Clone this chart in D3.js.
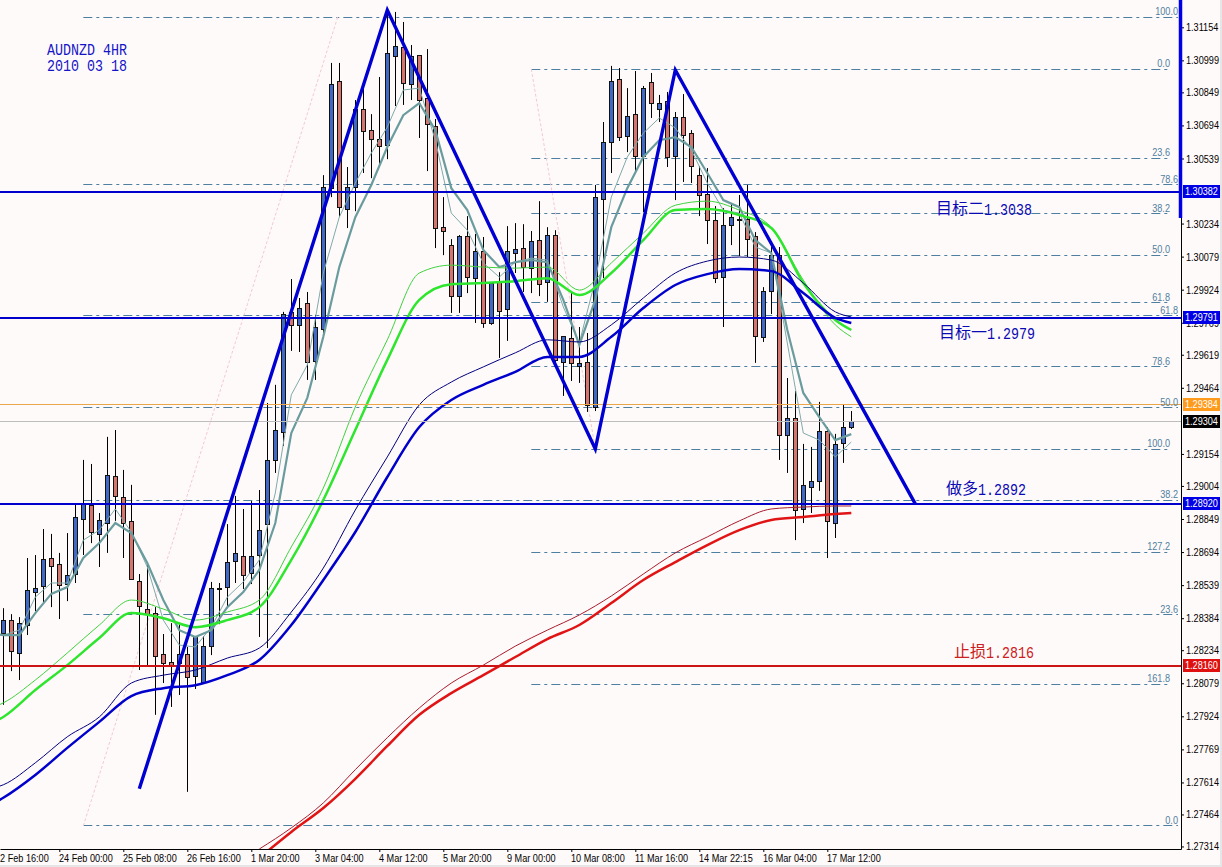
<!DOCTYPE html>
<html>
<head>
<meta charset="utf-8">
<title>AUDNZD 4HR</title>
<script src="https://cdn.jsdelivr.net/npm/d3@7"></script>
<style>
  html, body { margin: 0; padding: 0; overflow: hidden; background: #e6e6e6; }
  svg { display: block; }
  .small { font-family: "Liberation Sans", Arial, sans-serif; font-size: 11px; }
</style>
</head>
<body>
<div id="chart"></div>
<script>
// ------ DATA: CANDLES (one entry per 4 hour bar) ------

const opens = [
  1.28310,1.28371,1.28221,1.28352,1.28507,1.28535,1.28666,1.28638,1.28544,1.28586,
  1.28844,1.28910,1.28779,1.28830,1.29046,1.28952,1.28835,1.28554,1.28427,1.28408,
  1.28216,1.28178,1.28174,1.28216,1.28113,1.28085,1.28249,1.28525,1.28525,1.28647,
  1.28675,1.28596,1.28680,1.28821,1.29121,1.29252,1.29815,1.29754,1.29857,1.29585,
  1.29740,1.30400,1.30898,1.30302,1.30405,1.30771,1.30668,1.30630,1.30597,1.31015,
  1.31057,1.30884,1.31024,1.30818,1.30691,1.30217,1.30133,1.29889,1.30171,1.29978,
  1.30105,1.29768,1.29960,1.29834,1.30096,1.30119,1.30025,1.30156,1.29960,1.30180,
  1.29581,1.29693,1.29562,1.29581,1.29374,1.30349,1.30611,1.30907,1.30644,1.30747,
  1.30546,1.30893,1.30771,1.30808,1.30546,1.30729,1.30658,1.30461,1.30368,1.30246,
  1.29983,1.30227,1.30255,1.30255,1.30171,1.29703,1.29917,1.30086,1.29238,1.29318,
  1.28891,1.28999,1.29023,1.29257,1.28825,1.29205,1.29276];
const highs = [
  1.28431,1.28403,1.28389,1.28666,1.28680,1.28802,1.28779,1.28690,1.28783,1.28915,
  1.29126,1.29107,1.28877,1.29234,1.29266,1.29079,1.29009,1.28591,1.28638,1.28436,
  1.28310,1.28361,1.28356,1.28249,1.28300,1.28300,1.28554,1.28549,1.28825,1.28957,
  1.28896,1.28933,1.28985,1.29393,1.29478,1.29820,1.29974,1.29885,1.29913,1.29806,
  1.30461,1.30987,1.30987,1.30499,1.30813,1.30869,1.30747,1.30921,1.31235,1.31226,
  1.31179,1.31071,1.31024,1.31052,1.30724,1.30358,1.30161,1.30180,1.30269,1.30185,
  1.30171,1.29955,1.30006,1.30222,1.30236,1.30231,1.30199,1.30339,1.30217,1.30203,
  1.29703,1.29917,1.29749,1.29721,1.30415,1.30710,1.30973,1.30963,1.30869,1.30949,
  1.30879,1.30940,1.30837,1.30851,1.30757,1.30841,1.30672,1.30504,1.30494,1.30316,
  1.30306,1.30325,1.30368,1.30415,1.30194,1.29936,1.30124,1.30124,1.29510,1.29449,
  1.29201,1.29187,1.29398,1.29280,1.29248,1.29384,1.29355];
const lows = [
  1.27978,1.28136,1.28094,1.28305,1.28417,1.28460,1.28436,1.28380,1.28464,1.28549,
  1.28680,1.28736,1.28624,1.28690,1.28840,1.28666,1.28563,1.28141,1.28164,1.27931,
  1.28080,1.27968,1.28024,1.27570,1.28052,1.28080,1.28211,1.28356,1.28431,1.28549,
  1.28521,1.28544,1.28296,1.28244,1.29065,1.29191,1.29637,1.29632,1.29501,1.29501,
  1.29703,1.30358,1.30264,1.30213,1.30292,1.30471,1.30447,1.30499,1.30536,1.30785,
  1.30790,1.30813,1.30635,1.30480,1.30119,1.30086,1.29815,1.29815,1.29908,1.29768,
  1.29745,1.29759,1.29604,1.29684,1.30002,1.29913,1.29908,1.29894,1.29867,1.29571,
  1.29426,1.29496,1.29487,1.29351,1.29355,1.29978,1.30471,1.30621,1.30569,1.30480,
  1.30288,1.30729,1.30710,1.30499,1.30344,1.30429,1.30424,1.30269,1.30138,1.29955,
  1.29749,1.30133,1.30081,1.30077,1.29581,1.29679,1.29810,1.29126,1.29065,1.28750,
  1.28830,1.28877,1.28981,1.28666,1.28760,1.29112,1.29271];
const closes = [
  1.28371,1.28225,1.28361,1.28516,1.28525,1.28661,1.28629,1.28540,1.28586,1.28854,
  1.28915,1.28783,1.28844,1.29055,1.28952,1.28830,1.28563,1.28436,1.28403,1.28206,
  1.28174,1.28164,1.28216,1.28108,1.28300,1.28253,1.28521,1.28525,1.28643,1.28685,
  1.28586,1.28675,1.28797,1.29121,1.29262,1.29806,1.29754,1.29834,1.29581,1.29745,
  1.30405,1.30888,1.30306,1.30405,1.30771,1.30668,1.30625,1.30597,1.31029,1.31062,
  1.30888,1.31015,1.30813,1.30696,1.30213,1.30199,1.29894,1.30171,1.29978,1.30105,
  1.29768,1.29955,1.29824,1.30105,1.30114,1.30030,1.30152,1.29950,1.30180,1.29595,
  1.29703,1.29576,1.29576,1.29379,1.30358,1.30616,1.30898,1.30635,1.30738,1.30550,
  1.30865,1.30794,1.30799,1.30546,1.30729,1.30644,1.30504,1.30368,1.30246,1.29974,
  1.30227,1.30264,1.30255,1.30161,1.29703,1.29917,1.30086,1.29243,1.29318,1.28886,
  1.29004,1.29027,1.29257,1.28835,1.29196,1.29280,1.29304];

// ------ DATA: MOVING AVERAGES (read every few bars) ------

const fastBars = [
  -1,0,2,4,6,8,10,12,14,16,18,20,22,24,26,28,30,32,34,36,38,40,42,44,46,48,50,52,
  54,56,58,60,62,64,66,68,70,72,74,76,78,80,82,84,86,88,90,92,94,96,98,100,102,104,106];
const slowBars = [-1,0,4,8,12,16,20,24,28,32,36,40,44,48,52,56,60,64,68,72,76,80,84,88,92,96,100,104,106];
const redBars = [32,36,40,44,48,52,56,60,64,68,72,76,80,84,88,92,96,100,104,106];

const tealThick = [
  1.28310,1.28305,1.28305,1.28408,1.28498,1.28530,1.28666,1.28736,1.28830,1.28783,1.28643,
  1.28469,1.28328,1.28296,1.28328,1.28436,1.28507,1.28610,1.28830,1.29252,1.29417,
  1.29703,1.30030,1.30264,1.30415,1.30593,1.30742,1.30799,1.30672,1.30400,1.30297,
  1.30110,1.30030,1.30053,1.30063,1.30053,1.29876,1.29665,1.29876,1.30217,1.30400,
  1.30546,1.30625,1.30639,1.30593,1.30471,1.30344,1.30311,1.30156,1.30096,1.29735,
  1.29440,1.29327,1.29219,1.29247];
const tealThin = [
  1.28310,1.28305,1.28328,1.28483,1.28549,1.28549,1.28750,1.28797,1.28896,1.28788,1.28624,
  1.28375,1.28258,1.28249,1.28342,1.28483,1.28554,1.28657,1.28971,1.29431,1.29571,
  1.30002,1.30264,1.30424,1.30564,1.30686,1.30860,1.30869,1.30625,1.30283,1.30203,
  1.30049,1.29983,1.30053,1.30072,1.30063,1.29843,1.29674,1.29969,1.30358,1.30546,
  1.30658,1.30729,1.30682,1.30579,1.30424,1.30297,1.30283,1.30124,1.30096,1.29674,
  1.29252,1.29219,1.29140,1.29210];
const greenThick = [
  1.27900,1.27921,1.28047,1.28164,1.28291,1.28408,1.28384,1.28342,1.28375,1.28436,1.28657,
  1.28938,1.29266,1.29595,1.29876,1.29950,1.29955,1.29964,1.29978,1.29899,1.30002,
  1.30156,1.30297,1.30302,1.30274,1.30213,1.29955,1.29782,1.29735];
const greenThin = [
  1.27970,1.27987,1.28094,1.28221,1.28352,1.28469,1.28427,1.28375,1.28413,1.28469,1.28718,
  1.28994,1.29374,1.29689,1.30002,1.30039,1.30030,1.30025,1.30030,1.29922,1.30049,
  1.30189,1.30320,1.30339,1.30297,1.30217,1.29969,1.29759,1.29703];
const navyThick = [
  1.27520,1.27542,1.27649,1.27776,1.27898,1.28019,1.28056,1.28070,1.28117,1.28188,1.28352,
  1.28563,1.28788,1.29046,1.29280,1.29407,1.29478,1.29539,1.29609,1.29609,1.29703,
  1.29838,1.29946,1.29997,1.30021,1.30011,1.29908,1.29792,1.29768];
const navyThin = [
  1.27590,1.27603,1.27706,1.27828,1.27921,1.28080,1.28117,1.28141,1.28197,1.28244,1.28413,
  1.28619,1.28891,1.29140,1.29384,1.29491,1.29562,1.29628,1.29689,1.29679,1.29759,
  1.29885,1.30002,1.30058,1.30077,1.30063,1.29955,1.29820,1.29796];
const redThick = [
  1.27260,1.27382,1.27494,1.27631,1.27785,1.27931,1.28033,1.28117,1.28202,1.28286,
  1.28352,1.28455,1.28563,1.28647,1.28727,1.28797,1.28844,1.28858,1.28872,1.28877];
const redThin = [
  1.27302,1.27401,1.27518,1.27674,1.27824,1.27963,1.28080,1.28164,1.28253,1.28328,
  1.28399,1.28488,1.28591,1.28690,1.28765,1.28840,1.28896,1.28905,1.28910,1.28910];

// ------ DATA: DRAWN OBJECTS ------

const zigzagBars = [17, 48, 74, 84, 114];
const zigzagPrices = [1.27584, 1.31235, 1.29177, 1.30954, 1.28920];

// fibonacci group one starts at bar 10, group two at bar 66
const fibOneLabels = ['100.0','78.6','61.8','50.0','38.2','23.6','0.0'];
const fibOnePrices = [1.31202,1.30415,1.29801,1.29370,1.28938,1.28399,1.27410];
const fibTwoLabels = ['0.0','23.6','38.2','50.0','61.8','78.6','100.0','127.2','161.8'];
const fibTwoPrices = [1.30958,1.30541,1.30279,1.30086,1.29862,1.29562,1.29177,1.28694,1.28075];
const fibOneBase = [[10, 1.27410], [41.8, 1.31202]];
const fibTwoBase = [[66, 1.30958], [74, 1.29177]];

const levelPrices = [1.30382, 1.29791, 1.28920, 1.28160, 1.29384, 1.29304];
const levelColors = ['#0000cc','#0000cc','#0000cc','#cc1414','#eaa64a','#bdbdbd'];
const levelWidths = [2, 2, 2, 2, 1, 1];
const tagTexts = ['1.30382','1.29791','1.28920','1.28160','1.29384','1.29304'];
const tagColors = ['#0000e6','#0000e6','#0000e6','#e01010','#ff9a1a','#000000'];

const priceTicks = [
  1.31154,1.30999,1.30849,1.30694,1.30539,1.30234,1.30079,1.29924,1.29769,1.29619,
  1.29464,1.29154,1.29004,1.28849,1.28694,1.28539,1.28384,1.28234,1.28079,1.27924,
  1.27769,1.27614,1.27464,1.27314];
const timeBars = [-1,7,15,23,31,39,47,55,63,71,79,87,95,103];
const timeLabels = [
  '22 Feb 16:00','24 Feb 00:00','25 Feb 08:00','26 Feb 16:00','1 Mar 20:00','3 Mar 04:00','4 Mar 12:00',
  '5 Mar 20:00','9 Mar 00:00','10 Mar 08:00','11 Mar 16:00','14 Mar 22:15','16 Mar 04:00','17 Mar 12:00'];

// ------ SET UP ------

const svg = d3.select('#chart').append('svg').attr('width', 1222).attr('height', 867);

const x = d3.scaleLinear().domain([-0.4125, 147.2125]).range([0, 1181]);
const y = d3.scaleLinear().domain([1.27302, 1.31282]).range([849, 0]);
const px = v => Math.floor(v) + 0.5;

svg.append('rect').attr('width', 1220).attr('height', 865).attr('fill', '#fffafa');
svg.append('clipPath').attr('id', 'plot').append('rect').attr('width', 1181).attr('height', 849);
const plot = svg.append('g').attr('clip-path', 'url(#plot)');

drawFibs();
drawCandles();
drawAverages();
drawLevels();
drawZigzag();
drawAxes();
drawNotes();

// ------ FUNCTIONS ------

function drawCandles(){
  const bars = opens.map((o, i) => i);
  const g = plot.append('g');

  g.selectAll('.wick').data(bars).join('line')
      .attr('x1', i => px(x(i))).attr('x2', i => px(x(i)))
      .attr('y1', i => y(highs[i])).attr('y2', i => y(lows[i]))
      .attr('stroke', '#000').attr('stroke-width', 1);

  g.selectAll('.body').data(bars).join('rect')
      .attr('x', i => px(x(i)) - 2)
      .attr('y', i => px(y(Math.max(opens[i], closes[i]))))
      .attr('width', 4)
      .attr('height', i => Math.max(1, Math.round(y(Math.min(opens[i], closes[i])) - y(Math.max(opens[i], closes[i])))))
      .attr('fill', i => closes[i] >= opens[i] ? '#4168c4' : '#d4766f')
      .attr('stroke', '#111').attr('stroke-width', 1)
      .attr('shape-rendering', 'crispEdges');
}

function drawAverages(){
  const jagged = d3.line().x(d => x(d[0])).y(d => y(d[1]));
  const smooth = d3.line().x(d => x(d[0])).y(d => y(d[1])).curve(d3.curveMonotoneX);
  const series = [
    [fastBars, tealThin, '#7faaaa', 1, jagged],
    [fastBars, tealThick, '#6a9c9e', 2.2, jagged],
    [slowBars, greenThin, '#3ed23e', 1, smooth],
    [slowBars, greenThick, '#2de62d', 2.5, smooth],
    [slowBars, navyThin, '#000080', 1, smooth],
    [slowBars, navyThick, '#0000cc', 2.5, smooth],
    [redBars, redThin, '#a81c2c', 1, smooth],
    [redBars, redThick, '#e01414', 2.5, smooth],
  ];
  series.forEach(s => {
    plot.append('path')
        .datum(s[0].map((bar, i) => [bar, s[1][i]]))
        .attr('d', s[4])
        .attr('fill', 'none')
        .attr('stroke', s[2])
        .attr('stroke-width', s[3]);
  });
}

function drawFibs(){
  const dash = '9,4,3,4';
  const fibGroup = (labels, prices, startBar, endX, base) => {
    plot.selectAll(null).data(prices).join('line')
        .attr('x1', x(startBar)).attr('x2', endX)
        .attr('y1', d => px(y(d))).attr('y2', d => px(y(d)))
        .attr('stroke', '#4f7fa0').attr('stroke-dasharray', dash);
    plot.append('line')
        .attr('x1', x(base[0][0])).attr('y1', y(base[0][1]))
        .attr('x2', x(base[1][0])).attr('y2', y(base[1][1]))
        .attr('stroke', '#f2c9d2').attr('stroke-dasharray', '3,2');
    svg.selectAll(null).data(labels).join('text')
        .attr('class', 'small fib')
        .attr('x', endX).attr('y', (d, i) => y(prices[i]) - 2)
        .attr('text-anchor', 'end').attr('fill', '#4f7fa0')
        .text(d => d);
  };
  fibGroup(fibOneLabels, fibOnePrices, 10, 1178, fibOneBase);
  fibGroup(fibTwoLabels, fibTwoPrices, 66, 1170, fibTwoBase);
}

function drawLevels(){
  plot.selectAll(null).data(levelPrices).join('line')
      .attr('x1', 0).attr('x2', 1181)
      .attr('y1', (d, i) => levelWidths[i] == 1 ? px(y(d)) : Math.round(y(d)))
      .attr('y2', (d, i) => levelWidths[i] == 1 ? px(y(d)) : Math.round(y(d)))
      .attr('stroke', (d, i) => levelColors[i])
      .attr('stroke-width', (d, i) => levelWidths[i]);
}

function drawZigzag(){
  const line = d3.line().x(d => x(d[0])).y(d => y(d[1]));
  plot.append('path')
      .datum(zigzagBars.map((bar, i) => [bar, zigzagPrices[i]]))
      .attr('d', line)
      .attr('fill', 'none')
      .attr('stroke', '#0000d2')
      .attr('stroke-width', 3.4);
}

function drawAxes(){
  const yAxis = svg.append('g').attr('transform', 'translate(1181,0)')
      .call(d3.axisRight(y).tickValues(priceTicks).tickSize(3).tickSizeOuter(0).tickPadding(2)
        .tickFormat(d3.format('.5f')));
  const xAxis = svg.append('g').attr('transform', 'translate(0,849)')
      .call(d3.axisBottom(x).tickValues(timeBars).tickSize(3).tickSizeOuter(0).tickPadding(2)
        .tickFormat((d, i) => timeLabels[i]));
  svg.selectAll('.domain').attr('stroke', '#000');
  yAxis.selectAll('text').attr('class', 'small').attr('fill', '#000');
  xAxis.selectAll('text').attr('class', 'small').attr('fill', '#000')
      .attr('text-anchor', 'start').attr('dx', -1);

  // the thick blue bar on the top of the price axis
  svg.append('line').attr('x1', 1180.5).attr('x2', 1180.5).attr('y1', 0).attr('y2', 218)
      .attr('stroke', '#0000e6').attr('stroke-width', 3.5);

  // price tags on the axis
  const tags = svg.append('g').selectAll('g').data(levelPrices).join('g')
      .attr('transform', d => `translate(1183,${Math.round(y(d)) - 7})`);
  tags.append('rect').attr('width', 37).attr('height', 13).attr('fill', (d, i) => tagColors[i]);
  tags.append('text').attr('class', 'small').attr('x', 2).attr('y', 10.5).attr('fill', '#fff')
      .text((d, i) => tagTexts[i]);

  // system font on the original is narrow, so squeeze the small texts to match
  const squeeze = 0.83;
  svg.selectAll('text.small').each(function(){
    const t = d3.select(this);
    t.attr('x', (+t.attr('x') || 0) / squeeze).attr('transform', `scale(${squeeze},1)`);
  });
}

function drawNotes(){
  // the latin part is a half width font: 8px a character at 16px
  const squeeze = 0.8333;
  const note = (cn, num, left, base, color) => {
    const width = cn.length * 16;
    svg.append('text').attr('x', left).attr('y', base - 1).attr('fill', color)
        .style('font-family', '"Noto Sans CJK SC"').style('font-size', '16px').text(cn);
    svg.append('text').attr('x', (left + width) / squeeze).attr('y', base)
        .attr('transform', `scale(${squeeze},1)`).attr('fill', color)
        .style('font-family', '"Liberation Mono"').style('font-size', '16px').text(num);
  };
  note('目标二', '1.3038', 936, 215, '#0a0ab4');
  note('目标一', '1.2979', 939, 339, '#0a0ab4');
  note('做多', '1.2892', 946, 495, '#0a0ab4');
  note('止损', '1.2816', 954, 658, '#cc2020');
  note('', 'AUDNZD 4HR', 47, 55, '#1414c8');
  note('', '2010 03 18', 47, 71, '#1414c8');
}
</script>
</body>
</html>
